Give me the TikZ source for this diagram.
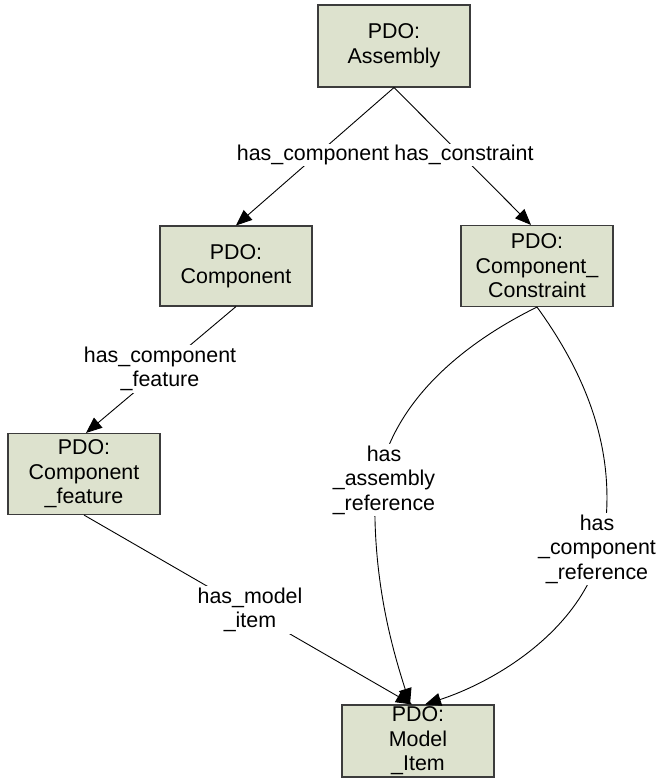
\documentclass[tikz,border=0pt]{standalone}
\usepackage{fontspec}
\setmainfont{Liberation Sans}
\usetikzlibrary{arrows.meta}
\definecolor{boxfill}{RGB}{221,226,206}
\definecolor{boxline}{RGB}{60,60,60}
\begin{document}
\begin{tikzpicture}[x=1pt,y=-1pt,
  pdo/.style={draw=boxline,fill=boxfill,line width=1.1pt,minimum width=152pt,
    minimum height=80pt,inner sep=0pt,align=center,
    font=\fontsize{21.4}{24.5}\selectfont},
  rel/.style={draw=black,line width=0.9pt,-{Triangle[length=16pt,width=13pt]}},
  lbl/.style={fill=white,inner sep=1.5pt,align=center,
    font=\fontsize{21.4}{24.5}\selectfont}]
\useasboundingbox (0,0) rectangle (663,781);

% classes
\node[pdo,minimum height=82pt] (asm)   at (394,46)  {PDO:\\Assembly};
\node[pdo]                     (comp)  at (236,266) {PDO:\\Component};
\node[pdo,minimum height=81pt] (cons)  at (537,266) {PDO:\\Component\_\\Constraint};
\node[pdo,minimum height=81pt] (feat)  at (84,474)  {PDO:\\Component\\\_feature};
\node[pdo,minimum height=72pt] (model) at (418,741) {PDO:\\Model\\\_Item};

% relations
\draw[rel] (asm.south) -- (comp.north);
\draw[rel] (asm.south) -- ([xshift=-6pt]cons.north);
\draw[rel] (comp.south) -- ([xshift=2pt]feat.north);
\draw[rel] (feat.south) -- ([xshift=-6pt]model.north);
\draw[rel] (cons.south) .. controls (450,350) and (372,420) .. (375,520)
                        .. controls (377,600) and (396,660) .. ([xshift=-8pt]model.north);
\draw[rel] (cons.south) .. controls (590,380) and (612,450) .. (606,520)
                        .. controls (600,620) and (500,680) .. ([xshift=7pt]model.north);

% relation names
\node[lbl] (l1) at (313,155) {has\_component};
\node[lbl] (l2) at (464,155) {has\_constraint};
\node[lbl] (l3) at (160,369) {has\_component\\\_feature};
\node[lbl] (l4) at (384,480) {has\\\_assembly\\\_reference};
\node[lbl] (l5) at (597,549) {has\\\_component\\\_reference};
\node[lbl] (l6) at (250,610) {has\_model\\\_item};
\end{tikzpicture}
\end{document}
